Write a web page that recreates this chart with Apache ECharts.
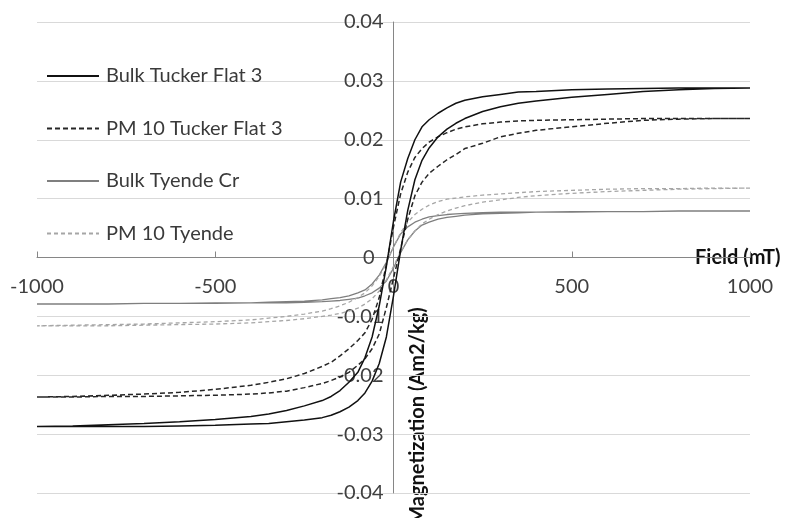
<!DOCTYPE html>
<html><head><meta charset="utf-8">
<script src="https://cdn.jsdelivr.net/npm/echarts@6/dist/echarts.min.js"></script>
<style>html,body{margin:0;padding:0;background:#fff}#c{width:785px;height:518px}</style>
</head><body><div id="c"></div><script>
// Applied field (mT) sample positions, ascending
const field = [-1000,-900,-800,-700,-600,-500,-400,-350,-300,-250,-200,-175,-150,-125,-100,-80,-60,-40,-20,0,20,40,60,80,100,125,150,175,200,250,300,350,400,500,600,700,800,900,1000];

const seriesNames = ['Bulk Tucker Flat 3','PM 10 Tucker Flat 3','Bulk Tyende Cr','PM 10 Tyende'];
const xTickValues = [-1000,-500,0,500,1000];
const yTickValues = [-0.04,-0.03,-0.02,-0.01,0,0.01,0.02,0.03,0.04];

// Magnetization (Am2/kg); "Desc" = branch coming down from +1000 mT, "Asc" = branch going up from -1000 mT
// (both listed in the ascending field order above)
const bulkTuckerDesc = [-0.0287,-0.0286,-0.0284,-0.0282,-0.0279,-0.0275,-0.0270,-0.0266,-0.0260,-0.0252,-0.0243,-0.0236,-0.0226,-0.0212,-0.0195,-0.0170,-0.0135,-0.0082,-0.0015,0.0062,0.0128,0.0168,0.0200,0.0222,0.0234,0.0245,0.0254,0.0262,0.0267,0.0273,0.0277,0.0281,0.0282,0.0285,0.0286,0.0287,0.0288,0.0288,0.0288];
const bulkTuckerAsc  = [-0.0287,-0.0287,-0.0287,-0.0287,-0.0286,-0.0285,-0.0283,-0.0282,-0.0279,-0.0276,-0.0272,-0.0268,-0.0262,-0.0254,-0.0243,-0.0230,-0.0210,-0.0180,-0.0135,-0.0065,0.0012,0.0080,0.0132,0.0165,0.0186,0.0205,0.0218,0.0228,0.0236,0.0248,0.0256,0.0262,0.0266,0.0272,0.0277,0.0282,0.0285,0.0287,0.0288];

const pmTuckerDesc = [-0.0237,-0.0236,-0.0234,-0.0232,-0.0229,-0.0224,-0.0217,-0.0212,-0.0206,-0.0197,-0.0185,-0.0178,-0.0167,-0.0155,-0.0141,-0.0128,-0.0105,-0.0068,-0.0012,0.0052,0.0108,0.0145,0.0170,0.0185,0.0196,0.0205,0.0212,0.0218,0.0222,0.0227,0.0230,0.0232,0.0233,0.0234,0.0235,0.0236,0.0236,0.0236,0.0236];
const pmTuckerAsc  = [-0.0237,-0.0237,-0.0236,-0.0236,-0.0235,-0.0234,-0.0232,-0.0230,-0.0227,-0.0221,-0.0214,-0.0209,-0.0203,-0.0195,-0.0183,-0.0172,-0.0155,-0.0130,-0.0085,-0.0035,0.0015,0.0065,0.0105,0.0128,0.0143,0.0155,0.0166,0.0175,0.0185,0.0194,0.0205,0.0211,0.0216,0.0222,0.0228,0.0233,0.0235,0.0236,0.0236];

const bulkTyendeDesc = [-0.0079,-0.0079,-0.0079,-0.0078,-0.0078,-0.0077,-0.0077,-0.0076,-0.0075,-0.0074,-0.0072,-0.0070,-0.0068,-0.0065,-0.0060,-0.0055,-0.0045,-0.0030,-0.0008,0.0018,0.0040,0.0052,0.0060,0.0065,0.0069,0.0071,0.0073,0.0074,0.0075,0.0076,0.0077,0.0077,0.0077,0.0078,0.0078,0.0078,0.0079,0.0079,0.0079];
const bulkTyendeAsc  = [-0.0079,-0.0079,-0.0079,-0.0078,-0.0078,-0.0078,-0.0077,-0.0077,-0.0077,-0.0076,-0.0075,-0.0074,-0.0073,-0.0071,-0.0069,-0.0065,-0.0060,-0.0052,-0.0040,-0.0018,0.0008,0.0030,0.0045,0.0055,0.0060,0.0065,0.0068,0.0070,0.0072,0.0074,0.0075,0.0076,0.0077,0.0077,0.0078,0.0078,0.0079,0.0079,0.0079];

const pmTyendeDesc = [-0.0116,-0.0115,-0.0114,-0.0113,-0.0111,-0.0109,-0.0106,-0.0103,-0.0100,-0.0096,-0.0091,-0.0087,-0.0082,-0.0076,-0.0068,-0.0060,-0.0048,-0.0032,-0.0010,0.0018,0.0042,0.0060,0.0073,0.0082,0.0089,0.0095,0.0099,0.0101,0.0103,0.0106,0.0108,0.0110,0.0112,0.0114,0.0116,0.0117,0.0117,0.0118,0.0118];
const pmTyendeAsc  = [-0.0116,-0.0116,-0.0116,-0.0115,-0.0114,-0.0113,-0.0111,-0.0109,-0.0107,-0.0104,-0.0100,-0.0098,-0.0095,-0.0091,-0.0086,-0.0079,-0.0070,-0.0057,-0.0038,-0.0015,0.0010,0.0030,0.0045,0.0057,0.0065,0.0073,0.0079,0.0084,0.0088,0.0094,0.0098,0.0102,0.0105,0.0109,0.0112,0.0114,0.0116,0.0117,0.0118];

function loop(desc, asc) {
  const pts = [];
  for (let i = field.length - 1; i >= 0; i--) pts.push([field[i], desc[i]]);
  for (let i = 0; i < field.length; i++) pts.push([field[i], asc[i]]);
  return pts;
}

const FONT = 'Lato';
const W = 785, H = 518;
const G = { left: 37, right: 35, top: 22, bottom: 25 };
const plotW = W - G.left - G.right, plotH = H - G.top - G.bottom;

const chart = echarts.init(document.getElementById('c'));
function mk(name, desc, asc, color, width, type) {
  return { name, type: 'line', data: loop(desc, asc), symbol: 'none', showSymbol: false,
    lineStyle: { color, width, type }, itemStyle: { color }, animation: false };
}
chart.setOption({
  animation: false,
  backgroundColor: '#fff',
  grid: Object.assign({ containLabel: false, outerBoundsMode: 'none' }, G),
  legend: {
    data: seriesNames, orient: 'vertical', left: 46, top: 66, padding: 0,
    itemWidth: 52, itemHeight: 12, itemGap: 32.5, selectedMode: false,
    itemStyle: { opacity: 0, color: 'transparent', borderColor: 'transparent', borderWidth: 0 },
    textStyle: { fontFamily: FONT, fontSize: 20, color: '#3a3a3a', lineHeight: 20, padding: [0, 0, 0, 2] }
  },
  xAxis: {
    type: 'value', min: xTickValues[0], max: xTickValues[xTickValues.length - 1], interval: 500,
    position: 'bottom', offset: -plotH / 2,
    axisLine: { onZero: false, lineStyle: { color: '#868686', width: 1 } },
    axisTick: { show: true, inside: true, length: 6, lineStyle: { color: '#868686' } },
    axisLabel: { margin: 19, fontFamily: FONT, fontSize: 20, color: '#404040', formatter: v => String(v) },
    splitLine: { show: false },
    name: 'Field (mT)', nameLocation: 'end', nameGap: -55,
    nameTextStyle: { fontFamily: FONT, fontSize: 20, fontWeight: 'bold', color: '#111' }
  },
  yAxis: {
    type: 'value', min: yTickValues[0], max: yTickValues[yTickValues.length - 1], interval: 0.01,
    position: 'left', offset: -plotW / 2,
    axisLine: { onZero: false, lineStyle: { color: '#868686', width: 1 } },
    axisTick: { show: false },
    axisLabel: {
      margin: 10, fontFamily: FONT, fontSize: 20, color: '#404040',
      formatter: v => { const r = Math.round(v * 100) / 100; return r === 0 ? '{z|0}' : String(r); },
      rich: { z: { fontFamily: FONT, fontSize: 20, color: '#404040', padding: [0, 9, 0, 0] } }
    },
    splitLine: { lineStyle: { color: '#d9d9d9', width: 1 } }
  },
  graphic: [{
    type: 'text', x: 418, y: 416, rotation: Math.PI / 2,
    style: { text: 'Magnetization (Am2/kg)', fontFamily: FONT, fontSize: 20, fontWeight: 'bold', fill: '#111', align: 'center', verticalAlign: 'middle' }
  }],
  series: [
    mk(seriesNames[2], bulkTyendeDesc, bulkTyendeAsc, '#7f7f7f', 1.3, 'solid'),
    mk(seriesNames[3], pmTyendeDesc, pmTyendeAsc, '#a6a6a6', 1.3, [4, 3]),
    mk(seriesNames[1], pmTuckerDesc, pmTuckerAsc, '#262626', 1.5, [5, 3]),
    mk(seriesNames[0], bulkTuckerDesc, bulkTuckerAsc, '#111111', 1.5, 'solid')
  ]
});
</script></body></html>
